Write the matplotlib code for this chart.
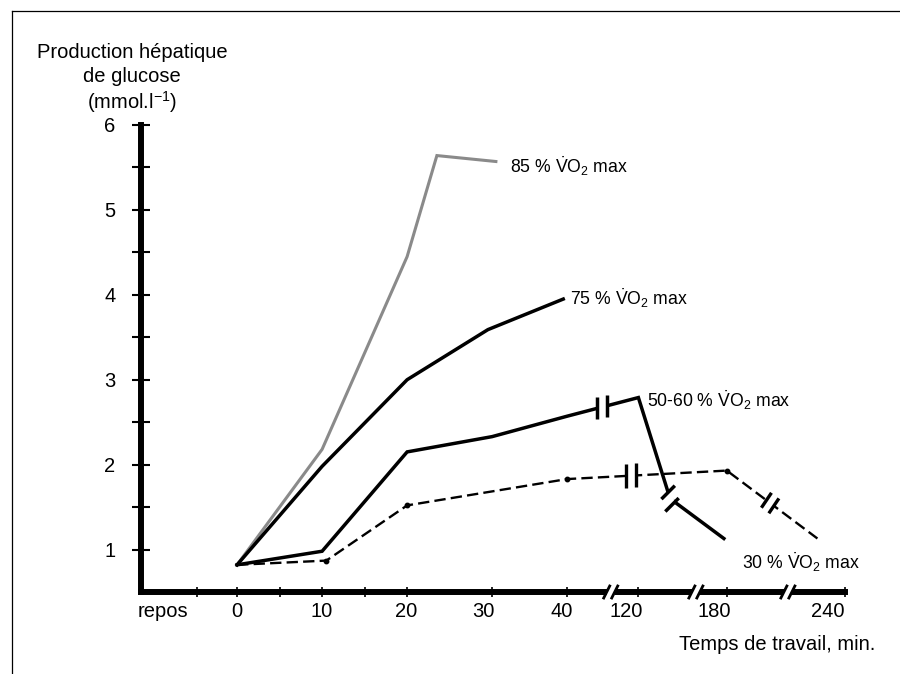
import numpy as np
import matplotlib
matplotlib.use('Agg')
import matplotlib.pyplot as plt
from matplotlib.lines import Line2D

plt.rcParams['font.family'] = ['Liberation Sans', 'DejaVu Sans']
plt.rcParams['font.size'] = 14.5

# broken time axis: minutes -> position on the axis
axis_minutes = [0, 10, 20, 30, 40, 120, 180, 240]
axis_pos = [0, 10, 20, 30, 38.8, 47.2, 57.6, 71.5]
repos_pos = -8.7
repos_tick = -4.7

tick_minutes = [0, 5, 10, 15, 20, 30, 40, 120, 180, 240]
label_minutes = [0, 10, 20, 30, 40, 120, 180, 240]
label_shift_px = [0, 0, -1, -9, -5, -12, -13, -17]
axis_break_minutes = [89, 159, 211]

y_major = [1, 2, 3, 4, 5, 6]
y_minor = [1.5, 2.5, 3.5, 4.5, 5.5]

# hepatic glucose production (mmol.l-1) vs work time (min)
t85 = [0, 10, 20, 23.5, 30.5]
v85 = [0.82, 2.18, 4.45, 5.64, 5.57]
t75 = [0, 10, 20, 29.5, 39.5]
v75 = [0.82, 1.98, 3.0, 3.59, 3.95]
t55 = [0, 10, 20, 30, 40, 120, 141.5, 178]
v55 = [0.82, 0.98, 2.15, 2.33, 2.57, 2.79, 1.6, 1.13]
t30 = [0, 10.5, 20, 40, 180, 226]
v30 = [0.82, 0.87, 1.52, 1.83, 1.93, 1.13]
t30_dots = [10.5, 20, 40, 180]
v30_dots = [0.87, 1.52, 1.83, 1.93]

labels = [r'85 % $\mathregular{\dot{V}O_2}$ max', r'75 % $\mathregular{\dot{V}O_2}$ max',
          r'50-60 % $\mathregular{\dot{V}O_2}$ max', r'30 % $\mathregular{\dot{V}O_2}$ max']


def to_pos(t):
    return np.interp(t, axis_minutes, axis_pos)


def px_offset(ax, x, y, dx, dy):
    X, Y = ax.transData.transform((x, y))
    return ax.transData.inverted().transform((X + dx, Y + dy))


def line_break(ax, ts, vs, t, angle, length, gap, lw=2.5):
    # find segment containing t, in display space
    i = max(np.searchsorted(ts, t) - 1, 0)
    p0 = ax.transData.transform((to_pos(ts[i]), vs[i]))
    p1 = ax.transData.transform((to_pos(ts[i + 1]), vs[i + 1]))
    frac = (to_pos(t) - to_pos(ts[i])) / (to_pos(ts[i + 1]) - to_pos(ts[i]))
    c = p0 + frac * (p1 - p0)
    u = (p1 - p0) / np.hypot(*(p1 - p0))
    b = np.array([np.cos(np.radians(angle)), np.sin(np.radians(angle))])
    inv = ax.transData.inverted()
    a, z = inv.transform(c - u * gap / 2), inv.transform(c + u * gap / 2)
    ax.plot([a[0], z[0]], [a[1], z[1]], color='white', lw=5, zorder=4,
            solid_capstyle='butt')
    for s in (-1, 1):
        m = c + s * u * gap / 2
        e0, e1 = inv.transform(m - b * length / 2), inv.transform(m + b * length / 2)
        ax.plot([e0[0], e1[0]], [e0[1], e1[1]], color='black', lw=lw, zorder=5,
                solid_capstyle='butt')


fig = plt.figure(figsize=(9, 6.74), dpi=100)
ax = fig.add_axes([141 / 900, 82 / 674, 704 / 900, 467 / 674])
ax.set_xlim(-11.3, 71.5)
ax.set_ylim(0.5, 6)

for s in ['top', 'right']:
    ax.spines[s].set_visible(False)
for s in ['left', 'bottom']:
    ax.spines[s].set_linewidth(4.3)
    ax.spines[s].set_capstyle('projecting')

ax.set_yticks(y_major, [str(v) for v in y_major])
ax.set_yticks(y_minor, minor=True)
ax.tick_params(axis='y', which='both', direction='inout', length=13, width=1.5, pad=12,
               labelsize=14.5)
ax.set_xticks([repos_tick] + list(to_pos(tick_minutes)))
ax.tick_params(axis='x', direction='inout', length=7, width=1.2, labelbottom=False)

ax.annotate('repos', xy=(repos_pos, 0.5), xytext=(0, -14), textcoords='offset points',
            ha='center', va='center', annotation_clip=False)
for m, sh in zip(label_minutes, label_shift_px):
    ax.annotate(str(m), xy=(to_pos(m), 0.5), xytext=(sh * 0.72, -14),
                textcoords='offset points', ha='center', va='center',
                annotation_clip=False)

# curves
ax.plot(to_pos(t85), v85, color='#8a8a8a', lw=2.2, solid_joinstyle='miter', zorder=2)
ax.plot(to_pos(t75), v75, color='black', lw=2.5, solid_joinstyle='miter', zorder=3)
ax.plot(to_pos(t55), v55, color='black', lw=2.5, solid_joinstyle='miter', zorder=3)
ax.plot(to_pos(t30), v30, color='black', lw=1.7, dashes=(4.8, 2.2), zorder=3)
ax.plot(to_pos(t30_dots), v30_dots, 'o', color='black', ms=3.2, zorder=3)

# breaks on the curves
line_break(ax, t55, v55, 79, 90, 22, 10)
line_break(ax, t30, v30, 112, 90, 24, 10, lw=2.4)
line_break(ax, t55, v55, 141.5, 45, 19, 13)
line_break(ax, t30, v30, 202, 56, 18, 9.3, lw=2.4)

# breaks on the time axis
for m in axis_break_minutes:
    x = to_pos(m)
    a, z = px_offset(ax, x, 0.5, -4, 0), px_offset(ax, x, 0.5, 4, 0)
    ax.plot([a[0], z[0]], [0.5, 0.5], color='white', lw=6, zorder=4,
            solid_capstyle='butt', clip_on=False)
    for dx in (-4, 4):
        e0 = px_offset(ax, x, 0.5, dx - 3, -6)
        e1 = px_offset(ax, x, 0.5, dx + 3, 6)
        ax.plot([e0[0], e1[0]], [e0[1], e1[1]], color='black', lw=2.0, zorder=5,
                clip_on=False)

# curve labels
ax.text(32.1, 5.51, labels[0], ha='left', va='center', fontsize=12.7)
ax.text(39.2, 3.96, labels[1], ha='left', va='center', fontsize=12.7)
ax.text(48.2, 2.76, labels[2], ha='left', va='center', fontsize=12.7)
ax.text(59.4, 0.85, labels[3], ha='left', va='center', fontsize=12.7)

# axis titles
fig.text(132 / 900, 1 - 52 / 674, 'Production hépatique', ha='center', va='center')
fig.text(132 / 900, 1 - 77 / 674, 'de glucose', ha='center', va='center')
fig.text(132 / 900, 1 - 102 / 674, r'(mmol.l$^{\mathregular{-1}}$)', ha='center', va='center')
fig.text(875 / 900, 1 - 645 / 674, 'Temps de travail, min.', ha='right', va='center')

# frame
fig.add_artist(Line2D([12 / 900, 12 / 900], [0, 1 - 11 / 674], color='black', lw=0.9))
fig.add_artist(Line2D([12 / 900, 1], [1 - 11 / 674, 1 - 11 / 674], color='black', lw=0.9))

fig.savefig('out.png', dpi=100)
